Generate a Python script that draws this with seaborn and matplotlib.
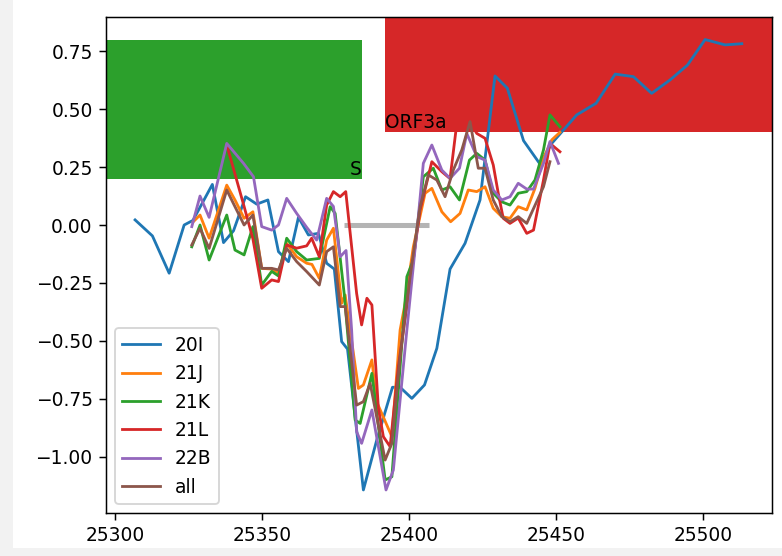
import matplotlib
matplotlib.use("Agg")
import matplotlib.pyplot as plt
from matplotlib.patches import Rectangle
import seaborn as sns
import pandas as pd

# ---------------- data ----------------
clades = ["20I", "21J", "21K", "21L", "22B", "all"]

x_20I = [25306.8, 25312.7, 25318.4, 25323.5, 25326.5, 25333.1, 25336.9, 25340.3, 25344.4, 25348.2,
         25352.0, 25355.6, 25359.0, 25362.4, 25365.8, 25369.2, 25372.0, 25374.6, 25377.1, 25379.1,
         25384.5, 25389.0, 25394.4, 25397.0, 25401.0, 25405.3, 25409.5, 25414.0, 25419.1, 25424.2,
         25429.3, 25433.5, 25439.0, 25444.6, 25448.6, 25457.1, 25463.7, 25470.2, 25476.4, 25482.6,
         25488.9, 25494.8, 25500.8, 25507.6, 25513.3]
y_20I = [0.022, -0.047, -0.208, 0.0, 0.02, 0.175, -0.076, -0.025, 0.122, 0.09,
         0.108, -0.115, -0.158, 0.033, -0.043, -0.036, -0.165, -0.19, -0.503, -0.535,
         -1.143, -0.93, -0.70, -0.70, -0.748, -0.69, -0.532, -0.19, -0.079, 0.108,
         0.643, 0.59, 0.364, 0.263, 0.352, 0.475, 0.525, 0.651, 0.64, 0.568,
         0.626, 0.69, 0.80, 0.777, 0.782]

x_21J = [25326.6, 25328.9, 25332.0, 25338.0, 25340.8, 25343.9, 25346.9, 25349.9, 25353.3, 25355.6,
         25358.4, 25361.8, 25365.2, 25367.0, 25369.5, 25372.0, 25374.3, 25377.1, 25378.3, 25382.8,
         25384.5, 25387.4, 25389.0, 25394.2, 25397.0, 25398.7, 25401.5, 25405.5, 25407.8, 25411.2,
         25414.2, 25417.4, 25420.2, 25423.1, 25425.9, 25428.7, 25431.6, 25434.4, 25437.2, 25440.1,
         25442.9, 25445.8, 25448.6, 25451.4]
y_21J = [0.014, 0.043, -0.057, 0.172, 0.108, 0.029, 0.057, -0.187, -0.19, -0.208,
         -0.079, -0.137, -0.165, -0.17, -0.23, -0.065, -0.014, -0.338, -0.302, -0.705,
         -0.69, -0.582, -0.762, -0.913, -0.453, -0.338, -0.094, 0.137, 0.158, 0.057,
         0.014, 0.05, 0.151, 0.144, 0.165, 0.072, 0.036, 0.029, 0.079, 0.065,
         0.158, 0.288, 0.367, 0.40]

x_21K = [25326.1, 25328.9, 25332.0, 25338.0, 25340.8, 25343.9, 25346.9, 25349.9, 25353.3, 25355.6,
         25358.4, 25361.8, 25365.2, 25369.5, 25373.2, 25374.9, 25378.0, 25381.7, 25383.4, 25387.4,
         25391.9, 25394.2, 25399.3, 25401.5, 25404.9, 25408.3, 25411.2, 25414.0, 25417.2, 25420.6,
         25423.1, 25425.9, 25428.7, 25431.6, 25434.4, 25437.2, 25440.1, 25442.9, 25445.8, 25448.0,
         25451.4]
y_21K = [-0.094, 0.0, -0.151, 0.043, -0.108, -0.129, -0.007, -0.259, -0.2, -0.22,
         -0.057, -0.115, -0.151, -0.144, 0.079, 0.05, -0.3, -0.841, -0.856, -0.64,
         -1.1, -1.086, -0.223, -0.151, 0.208, 0.245, 0.151, 0.165, 0.108, 0.28,
         0.309, 0.28, 0.137, 0.10, 0.086, 0.137, 0.144, 0.194, 0.324, 0.475,
         0.424]

x_21L = [25338.0, 25340.8, 25343.9, 25346.9, 25349.9, 25353.3, 25355.6, 25358.4, 25361.8, 25365.2,
         25366.9, 25369.5, 25372.0, 25374.3, 25376.6, 25378.5, 25382.2, 25383.9, 25385.7, 25387.4,
         25389.6, 25391.3, 25393.6, 25396.4, 25401.0, 25403.8, 25407.8, 25411.2, 25414.0, 25416.3,
         25420.0, 25423.1, 25425.9, 25428.7, 25430.4, 25432.1, 25434.4, 25437.2, 25440.1, 25442.4,
         25445.8, 25448.0, 25451.4]
y_21L = [0.345, 0.22, 0.08, -0.06, -0.273, -0.237, -0.244, -0.086, -0.1, -0.09,
         -0.057, -0.137, 0.086, 0.144, 0.122, 0.144, -0.295, -0.431, -0.316, -0.345,
         -0.79, -0.913, -0.956, -0.611, -0.194, 0.065, 0.273, 0.23, 0.2, 0.439,
         0.46, 0.395, 0.374, 0.259, 0.137, 0.029, 0.007, 0.03, -0.036, -0.022,
         0.194, 0.352, 0.316]

x_22B = [25326.1, 25328.9, 25332.0, 25338.0, 25343.7, 25347.1, 25349.9, 25353.3, 25355.6, 25358.4,
         25361.8, 25365.2, 25368.6, 25372.0, 25374.3, 25376.6, 25378.6, 25380.5, 25382.2, 25383.9,
         25387.4, 25392.2, 25394.7, 25399.3, 25403.2, 25404.9, 25407.8, 25411.2, 25414.0, 25417.2,
         25419.7, 25423.1, 25425.9, 25428.7, 25431.6, 25434.4, 25437.2, 25440.1, 25442.4, 25445.8,
         25448.0, 25450.9]
y_22B = [-0.007, 0.125, 0.033, 0.352, 0.266, 0.208, -0.007, -0.022, 0.0, 0.115,
         0.05, -0.01, -0.065, 0.115, 0.08, -0.137, -0.11, -0.453, -0.892, -0.942,
         -0.798, -1.143, -1.057, -0.453, 0.036, 0.266, 0.345, 0.237, 0.201, 0.245,
         0.395, 0.295, 0.28, 0.151, 0.108, 0.122, 0.18, 0.155, 0.155, 0.266,
         0.36, 0.266]

x_all = [25326.1, 25328.9, 25332.0, 25338.0, 25340.8, 25343.9, 25346.9, 25349.9, 25353.3, 25355.6,
         25358.4, 25361.8, 25365.2, 25369.5, 25372.0, 25374.3, 25376.6, 25378.3, 25382.2, 25384.5,
         25386.8, 25391.9, 25394.2, 25397.0, 25400.4, 25403.8, 25406.6, 25409.5, 25412.3, 25415.1,
         25418.0, 25420.8, 25423.6, 25425.9, 25428.7, 25431.6, 25434.4, 25437.2, 25440.1, 25445.8,
         25448.0]
y_all = [-0.086, -0.014, -0.101, 0.151, 0.079, 0.0, 0.043, -0.187, -0.187, -0.194,
         -0.101, -0.158, -0.201, -0.259, -0.115, -0.094, -0.352, -0.352, -0.777, -0.762,
         -0.683, -1.014, -0.942, -0.568, -0.223, 0.079, 0.216, 0.194, 0.122, 0.237,
         0.324, 0.446, 0.245, 0.245, 0.108, 0.036, 0.014, 0.036, 0.007, 0.165,
         0.273]

# gene annotations
genes = ["S", "ORF3a"]
gene_start = [21563, 25392]
gene_end = [25384, 26220]
gene_ybottom = [0.2, 0.4]
gene_height = [0.6, 0.6]

# highlighted region (grey bar at y=0)
region_start = 25378
region_end = 25407
region_y = 0.0

# ---------------- plot ----------------
DPI = 134.3
fig = plt.figure(figsize=(782 / DPI, 556 / DPI), dpi=DPI)
fig.patch.set_facecolor("white")
# faint grey page border seen at the left and bottom edges of the reference
fig.patches.append(Rectangle((0, 0), 13 / 782, 1, transform=fig.transFigure,
                             facecolor="#f2f2f2", edgecolor="none", zorder=0))
fig.patches.append(Rectangle((0, 0), 1, 8 / 556, transform=fig.transFigure,
                             facecolor="#f2f2f2", edgecolor="none", zorder=0))
ax = fig.add_axes([105.7 / 782, 42.7 / 556, 665.8 / 782, 496.6 / 556])

pal = sns.color_palette("tab10")
gene_colors = [pal[2], pal[3]]
for g, s, e, yb, h, c in zip(genes, gene_start, gene_end, gene_ybottom, gene_height, gene_colors):
    ax.add_patch(Rectangle((s, yb), e - s, h, facecolor=c, edgecolor="none", zorder=1))

ax.text(gene_end[0], gene_ybottom[0], genes[0], ha="right", va="bottom", fontsize=10, zorder=3)
ax.text(gene_start[1], gene_ybottom[1], genes[1], ha="left", va="bottom", fontsize=10, zorder=3)

ax.hlines(region_y, region_start, region_end, color="#b4b4b4", linewidth=2.7, zorder=1.5)

series = [(x_20I, y_20I), (x_21J, y_21J), (x_21K, y_21K),
          (x_21L, y_21L), (x_22B, y_22B), (x_all, y_all)]
for i, (name, (xs, ys)) in enumerate(zip(clades, series)):
    df = pd.DataFrame({"pos": xs, "score": ys})
    sns.lineplot(data=df, x="pos", y="score", ax=ax, color=pal[i], label=name,
                 linewidth=1.5, estimator=None, sort=False, zorder=2)

ax.set_xlim(25296.8, 25523.4)
ax.set_ylim(-1.2437, 0.8986)
ax.set_xlabel("")
ax.set_ylabel("")
ax.legend(loc="lower left")

fig.savefig("out.png", dpi=DPI)
